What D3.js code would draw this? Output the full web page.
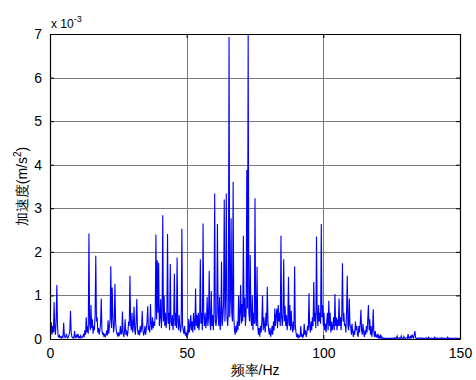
<!DOCTYPE html>
<html>
<head>
<meta charset="utf-8">
<script src="https://cdn.jsdelivr.net/npm/d3@7/dist/d3.min.js"></script>
<style>
  html, body { margin: 0; padding: 0; background: #fff; }
  svg { display: block; }
  text { font-family: "Liberation Sans", Arial, sans-serif; fill: #000; }
</style>
</head>
<body>
<svg id="chart" width="476" height="380"></svg>
<script>
// Acceleration amplitude spectrum, values in units of 1e-3 m/s^2,
// sampled every 0.25 Hz from 0 Hz to 150 Hz (one row = 5 Hz).
const freqStep = 0.25;
const amplitude = [
  0.35,0.12,0.38,0.10,0.30,0.15,0.85,0.20,0.10,0.45,1.24,0.30,0.06,0.04,0.08,0.03,0.05,0.02,0.06,0.04,
  0.37,0.08,0.03,0.05,0.12,0.04,0.02,0.06,0.10,0.20,0.65,0.15,0.05,0.03,0.04,0.02,0.18,0.05,0.03,0.10,
  0.04,0.12,0.03,0.05,0.02,0.08,0.04,0.03,0.06,0.10,0.04,0.20,0.10,0.50,0.15,0.30,0.12,2.42,0.35,0.20,
  0.78,0.25,0.45,0.12,0.30,0.20,0.55,1.91,0.40,0.50,0.15,0.25,0.10,0.20,0.35,0.93,0.20,0.10,0.15,0.05,
  0.12,0.06,0.10,0.20,0.08,0.43,0.12,0.30,0.45,1.67,0.25,1.18,0.50,0.15,0.30,1.26,0.40,0.20,0.12,0.08,
  0.15,0.06,0.12,0.30,0.10,0.15,0.63,0.12,0.05,0.18,0.45,0.10,0.20,0.06,0.15,0.40,0.30,1.45,0.35,0.20,
  0.60,0.15,0.30,0.74,0.20,0.10,0.40,0.92,0.25,0.10,0.20,0.08,0.30,0.15,0.25,0.64,0.20,0.08,0.15,0.30,
  0.10,0.25,0.40,0.75,0.20,0.30,0.15,0.80,0.35,0.20,0.50,0.25,0.40,0.30,0.55,2.40,0.45,1.81,0.60,1.75,
  0.30,0.50,0.92,0.25,0.60,2.84,0.40,1.00,0.30,0.60,0.25,0.50,2.41,0.35,0.60,0.20,1.72,0.40,0.30,0.55,
  0.20,0.45,1.50,0.30,0.60,0.25,1.87,0.40,0.20,0.55,0.30,0.15,0.35,2.53,0.30,0.20,0.12,0.30,0.08,0.15,
  0.05,0.20,0.10,0.46,0.15,0.30,0.55,0.20,0.40,0.15,0.60,0.30,0.20,1.16,0.30,0.55,0.25,0.60,0.20,0.40,
  1.83,0.35,0.60,0.20,2.65,0.50,0.30,0.60,0.25,0.40,0.97,0.30,0.50,1.56,0.40,0.20,1.10,0.30,0.55,0.20,
  0.60,3.34,0.40,0.30,0.50,2.64,0.60,0.30,0.97,0.20,0.40,1.77,0.30,0.50,0.80,3.20,0.40,0.90,3.34,0.50,
  0.30,0.60,6.93,0.50,0.90,2.77,0.60,0.40,3.61,0.50,0.20,0.10,0.30,0.15,0.40,0.20,1.00,0.30,0.60,1.24,
  0.35,0.80,0.40,2.37,0.50,0.95,0.30,0.60,3.88,0.70,7.00,0.60,0.40,1.93,0.50,0.30,1.00,0.20,0.60,0.35,
  3.23,0.40,0.30,1.66,0.30,0.10,0.25,0.05,0.30,0.15,0.40,1.00,0.20,0.50,0.30,0.15,0.60,0.30,1.20,0.40,
  0.20,0.10,0.25,0.05,0.15,0.30,0.10,0.40,0.20,0.70,0.30,0.55,0.70,0.25,0.78,0.40,0.60,0.30,2.37,0.50,
  0.30,0.60,1.83,0.40,0.75,0.30,0.55,0.20,0.40,1.43,0.30,0.78,0.20,0.65,0.30,0.15,0.40,0.20,1.67,0.30,
  0.15,0.05,0.10,0.03,0.08,0.04,0.06,0.30,0.05,0.10,0.04,0.08,0.35,0.10,0.20,0.05,0.15,0.30,0.20,1.05,
  0.30,0.15,0.40,0.20,0.50,0.30,1.31,0.40,0.60,0.25,2.35,0.60,0.30,0.78,0.40,0.60,0.35,2.64,0.50,0.78,
  0.30,0.60,0.20,0.35,0.15,0.40,0.60,0.20,0.88,0.30,0.60,0.15,0.40,0.20,0.30,0.50,0.20,1.03,0.30,0.50,
  0.20,0.45,0.30,0.93,0.30,0.50,0.20,0.60,1.74,0.40,0.60,0.30,0.35,0.15,0.60,1.45,0.30,0.20,0.93,0.30,
  0.30,0.10,0.35,0.15,0.05,0.20,0.10,0.40,0.20,0.30,0.10,0.05,0.30,0.15,0.35,0.67,0.20,0.10,0.35,0.15,
  0.05,0.20,0.10,0.30,0.15,0.45,0.78,0.20,0.45,0.10,0.30,0.05,0.20,0.68,0.15,0.05,0.18,0.04,0.10,0.03,
  0.12,0.02,0.06,0.01,0.10,0.02,0.04,0.01,0.02,0.01,0.02,0.01,0.01,0.02,0.01,0.01,0.02,0.01,0.01,0.02,
  0.01,0.02,0.01,0.02,0.01,0.03,0.01,0.02,0.07,0.01,0.02,0.03,0.01,0.02,0.07,0.01,0.02,0.01,0.06,0.02,
  0.01,0.02,0.03,0.02,0.11,0.02,0.04,0.01,0.08,0.02,0.10,0.04,0.02,0.10,0.18,0.03,0.01,0.02,0.01,0.02,
  0.01,0.02,0.03,0.01,0.02,0.01,0.02,0.01,0.01,0.02,0.03,0.01,0.02,0.01,0.04,0.01,0.02,0.01,0.02,0.01,
  0.01,0.02,0.01,0.04,0.01,0.02,0.01,0.02,0.01,0.01,0.02,0.01,0.01,0.03,0.01,0.02,0.01,0.02,0.01,0.01,
  0.02,0.01,0.04,0.01,0.02,0.01,0.01,0.02,0.01,0.01,0.02,0.01,0.01,0.02,0.02,0.01,0.01,0.02,0.01,0.01,
  0.01
];

const xTicks = [0, 50, 100, 150];
const yTicks = [0, 1, 2, 3, 4, 5, 6, 7];
const xLabel = "频率/Hz";
const yLabelMain = "加速度(m/s";
const yLabelSup = "2";
const yLabelTail = ")";

const data = amplitude.map((v, i) => ({ f: i * freqStep, a: v }));

const svg = d3.select("#chart");
const margin = { left: 50, right: 16, top: 34, bottom: 41 };
const W = 476, H = 380;
const x0 = margin.left, x1 = W - margin.right;
const y0 = H - margin.bottom, y1 = margin.top;

const x = d3.scaleLinear().domain([0, 150]).range([x0, x1]);
const y = d3.scaleLinear().domain([0, 7]).range([y0, y1]);

svg.append("defs").append("clipPath").attr("id", "plotClip")
  .append("rect").attr("x", x0).attr("y", y1).attr("width", x1 - x0).attr("height", y0 - y1);

// grid lines
const grid = svg.append("g").attr("stroke", "#7a7a7a").attr("stroke-width", 1).attr("fill", "none");
grid.selectAll("line.gx").data(xTicks.slice(1, -1)).join("line")
  .attr("x1", d => Math.round(x(d)) + 0.5).attr("x2", d => Math.round(x(d)) + 0.5)
  .attr("y1", y1).attr("y2", y0);
grid.selectAll("line.gy").data(yTicks.slice(1, -1)).join("line")
  .attr("y1", d => Math.round(y(d)) + 0.5).attr("y2", d => Math.round(y(d)) + 0.5)
  .attr("x1", x0).attr("x2", x1);

// spectrum line
const line = d3.line().x(d => x(d.f)).y(d => y(d.a));
svg.append("path").datum(data)
  .attr("clip-path", "url(#plotClip)")
  .attr("fill", "none").attr("stroke", "#0000ff").attr("stroke-width", 1.1)
  .attr("stroke-linejoin", "miter").attr("d", line);

// axes (ticks point inward, MATLAB style box)
const fmt = d3.format("d");
const axBottom = svg.append("g").attr("transform", `translate(0,${y0})`)
  .call(d3.axisBottom(x).tickValues(xTicks).tickFormat(fmt).tickSizeInner(-4).tickSizeOuter(0).tickPadding(9));
const axTop = svg.append("g").attr("transform", `translate(0,${y1})`)
  .call(d3.axisTop(x).tickValues(xTicks).tickSizeInner(-4).tickSizeOuter(0).tickFormat(""));
const axLeft = svg.append("g").attr("transform", `translate(${x0},0)`)
  .call(d3.axisLeft(y).tickValues(yTicks).tickFormat(fmt).tickSizeInner(-4).tickSizeOuter(0).tickPadding(8));
const axRight = svg.append("g").attr("transform", `translate(${x1},0)`)
  .call(d3.axisRight(y).tickValues(yTicks).tickSizeInner(-4).tickSizeOuter(0).tickFormat(""));

[axBottom, axTop, axLeft, axRight].forEach(g => {
  g.select(".domain").attr("stroke", "#000").attr("stroke-width", 1.2);
  g.selectAll(".tick line").attr("stroke", "#000");
  g.selectAll("text").attr("font-size", 14).attr("font-family", "Liberation Sans, Arial, sans-serif").attr("fill", "#000");
});

// exponent note
const expo = svg.append("text").attr("x", x0 + 1).attr("y", 28).attr("font-size", 12);
expo.append("tspan").text("x 10");
expo.append("tspan").attr("dy", -6).attr("font-size", 9).text("-3");

// axis titles
svg.append("text").attr("x", (x0 + x1) / 2).attr("y", 375)
  .attr("text-anchor", "middle").attr("font-size", 14)
  .attr("font-family", "Noto Sans CJK SC, Liberation Sans, sans-serif")
  .text(xLabel);

const yl = svg.append("text")
  .attr("transform", `translate(27,${(y0 + y1) / 2}) rotate(-90)`)
  .attr("text-anchor", "middle").attr("font-size", 14)
  .attr("font-family", "Noto Sans CJK SC, Liberation Sans, sans-serif");
yl.append("tspan").text(yLabelMain);
yl.append("tspan").attr("dy", -6).attr("font-size", 10).text(yLabelSup);
yl.append("tspan").attr("dy", 6).text(yLabelTail);
</script>
</body>
</html>
